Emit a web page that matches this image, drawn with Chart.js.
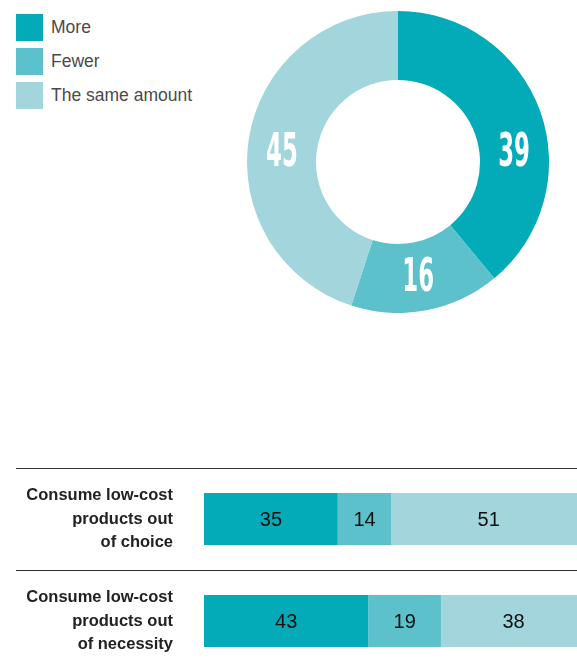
<!DOCTYPE html>
<html>
<head>
<meta charset="utf-8">
<title>Low-cost products</title>
<script src="https://cdn.jsdelivr.net/npm/chart.js@4/dist/chart.umd.min.js"></script>
<style>
    body { margin: 0; background: #fff; font-family: "Liberation Sans", Arial, sans-serif; }
    #page { position: relative; width: 577px; height: 668px; overflow: hidden; }
    #legend { position: absolute; left: 16px; top: 14px; }
    .legend-item { display: flex; align-items: center; height: 27px; margin-bottom: 7px; }
    .legend-box { width: 27px; height: 27px; margin-right: 8px; }
    .legend-text { font-size: 17.5px; color: #4a4a4a; }
    #donutWrap { position: absolute; left: 247px; top: 11px; width: 302px; height: 302px; }
    /* taller than the page on purpose, the last row gets cut like in the print */
    #barWrap { position: absolute; left: 0; top: 440px; width: 577px; height: 232px; }
</style>
</head>
<body>
<div id="page">
    <div id="legend"></div>
    <div id="donutWrap"><canvas id="donutChart"></canvas></div>
    <div id="barWrap"><canvas id="barChart"></canvas></div>
</div>
<script>
// data
var answers = ['More', 'Fewer', 'The same amount'];
var answerColors = ['#03aab7', '#5cc1cb', '#a2d6dc'];
var overallValues = [39, 16, 45];

var rowLabels = [
    ['Consume low-cost', 'products out', 'of choice'],
    ['Consume low-cost', 'products out', 'of necessity']
];
var moreValues = [35, 43];
var fewerValues = [14, 19];
var sameValues = [51, 38];

// where to put the big numbers on the ring (degrees, clockwise from top)
var ringLabelAngles = [85, 170, 275];

document.addEventListener('DOMContentLoaded', function () {

    // legend
    var legend = document.getElementById('legend');
    for (var i = 0; i < answers.length; i++) {
        var item = document.createElement('div');
        item.className = 'legend-item';
        var box = document.createElement('div');
        box.className = 'legend-box';
        box.style.background = answerColors[i];
        var txt = document.createElement('span');
        txt.className = 'legend-text';
        txt.textContent = answers[i];
        item.appendChild(box);
        item.appendChild(txt);
        legend.appendChild(item);
    }

    Chart.defaults.font.family = '"Liberation Sans", Arial, sans-serif';
    Chart.defaults.animation = false;

    // draws the big white numbers on the doughnut
    var ringLabels = {
        id: 'ringLabels',
        afterDatasetsDraw: function (chart) {
            var ctx = chart.ctx;
            var meta = chart.getDatasetMeta(0);
            ctx.save();
            ctx.fillStyle = '#ffffff';
            ctx.font = 'bold 47px "DejaVu Sans Condensed", "DejaVu Sans", sans-serif';
            ctx.textAlign = 'center';
            ctx.textBaseline = 'middle';
            meta.data.forEach(function (arc, i) {
                var p = arc.getProps(['x', 'y', 'innerRadius', 'outerRadius']);
                var r = (p.innerRadius + p.outerRadius) / 2;
                var a = ringLabelAngles[i] * Math.PI / 180;
                var x = p.x + r * Math.sin(a);
                var y = p.y - r * Math.cos(a);
                ctx.save();
                ctx.translate(x, y + 2);
                ctx.scale(0.54, 1);
                ctx.fillText(String(overallValues[i]), 0, 0);
                ctx.restore();
            });
            ctx.restore();
        }
    };

    new Chart(document.getElementById('donutChart'), {
        type: 'doughnut',
        data: {
            labels: answers,
            datasets: [{
                data: overallValues,
                backgroundColor: answerColors,
                borderWidth: 0
            }]
        },
        options: {
            responsive: true,
            maintainAspectRatio: false,
            cutout: '54.3%',
            plugins: {
                legend: { display: false },
                tooltip: { enabled: false }
            }
        },
        plugins: [ringLabels]
    });

    // value labels in the middle of each bar segment
    var barLabels = {
        id: 'barLabels',
        afterDatasetsDraw: function (chart) {
            var ctx = chart.ctx;
            ctx.save();
            ctx.fillStyle = '#111';
            ctx.font = '20px "Liberation Sans", Arial, sans-serif';
            ctx.textAlign = 'center';
            ctx.textBaseline = 'middle';
            chart.data.datasets.forEach(function (ds, d) {
                var meta = chart.getDatasetMeta(d);
                meta.data.forEach(function (bar, i) {
                    var p = bar.getProps(['x', 'y', 'base']);
                    ctx.fillText(String(ds.data[i]), (p.x + p.base) / 2, p.y + 1);
                });
            });
            ctx.restore();
        }
    };

    new Chart(document.getElementById('barChart'), {
        type: 'bar',
        data: {
            labels: rowLabels,
            datasets: [
                { label: answers[0], data: moreValues, backgroundColor: answerColors[0] },
                { label: answers[1], data: fewerValues, backgroundColor: answerColors[1] },
                { label: answers[2], data: sameValues, backgroundColor: answerColors[2] }
            ]
        },
        options: {
            indexAxis: 'y',
            responsive: true,
            maintainAspectRatio: false,
            layout: { padding: { top: 28, bottom: 0, left: 0, right: 0 } },
            datasets: {
                bar: { categoryPercentage: 1, barPercentage: 0.51, borderWidth: 0 }
            },
            scales: {
                x: {
                    display: false,
                    stacked: true,
                    min: 0,
                    max: 97.6
                },
                y: {
                    stacked: true,
                    border: { display: false },
                    grid: {
                        offset: true,
                        color: '#333',
                        lineWidth: 1,
                        tickLength: 188,
                        drawOnChartArea: true
                    },
                    ticks: {
                        color: '#222',
                        padding: -157,
                        font: { size: 16.5, weight: 'bold', lineHeight: 1.4 }
                    },
                    afterFit: function (scale) {
                        scale.width = 204;
                    }
                }
            },
            plugins: {
                legend: { display: false },
                tooltip: { enabled: false }
            }
        },
        plugins: [barLabels]
    });
});
</script>
</body>
</html>
